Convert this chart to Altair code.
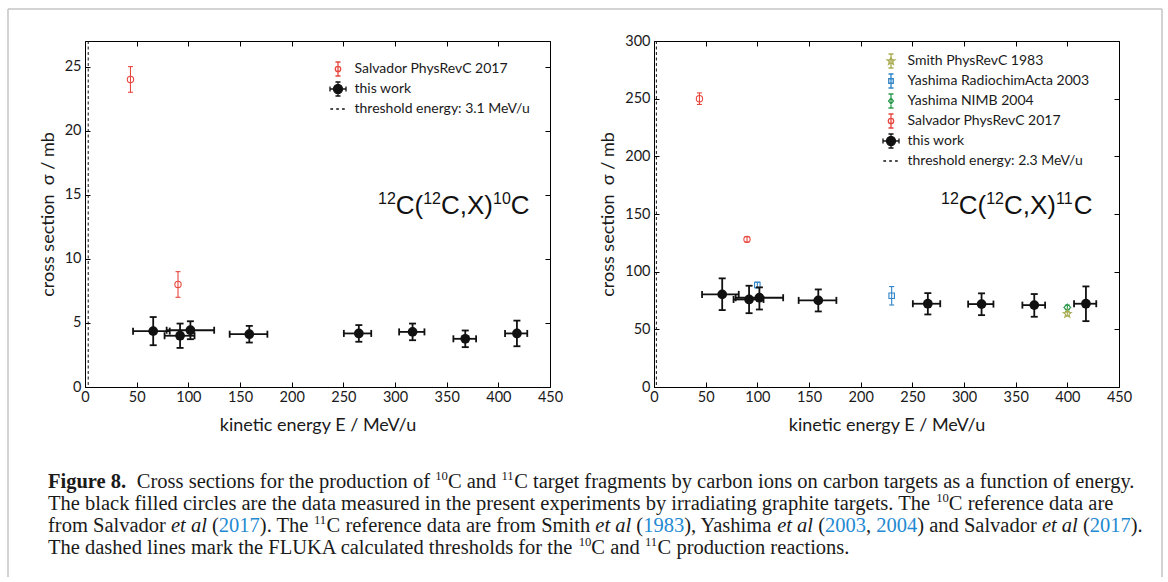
import math
import altair as alt
import pandas as pd

# ---------------- data ----------------
# energies of "this work" (shared by both panels)
tw_E = [66, 92, 102, 159, 265, 317, 368, 418]
tw_Elo = [46.5, 77, 79, 140, 250.5, 304, 356.5, 406.5]
tw_Ehi = [82, 106, 125, 176.5, 277, 328.5, 378.5, 428]

# 10C panel
c10_tw = [4.36, 4.0, 4.43, 4.12, 4.18, 4.3, 3.76, 4.18]
c10_tw_lo = [3.26, 3.05, 3.73, 3.47, 3.53, 3.65, 3.11, 3.18]
c10_tw_hi = [5.46, 4.95, 5.13, 4.77, 4.83, 4.95, 4.41, 5.18]
c10_sal_E = [44, 90]
c10_sal = [24, 8]
c10_sal_lo = [23, 7]
c10_sal_hi = [25, 9]
c10_threshold = 3.1

# 11C panel
c11_tw = [80.3, 75.9, 77.4, 75.1, 72.2, 71.9, 71.0, 72.2]
c11_tw_lo = [66.7, 64.0, 67.2, 65.5, 62.9, 62.3, 60.9, 57.1]
c11_tw_hi = [94.2, 87.8, 86.4, 84.6, 81.4, 81.2, 80.6, 87.2]
c11_sal_E = [44, 90]
c11_sal = [250, 128]
c11_sal_lo = [245, 125.7]
c11_sal_hi = [255, 130.3]
c11_y03_E = [100, 230]
c11_y03 = [88.4, 79.1]
c11_y03_lo = [85.9, 71.1]
c11_y03_hi = [90.9, 87.1]
c11_y04_E = [400]
c11_y04 = [69]
c11_y04_lo = [67]
c11_y04_hi = [71]
c11_smith_E = [400]
c11_smith = [63.5]
c11_smith_lo = [61.5]
c11_smith_hi = [65.5]
c11_threshold = 2.3

x_ticks = [0, 50, 100, 150, 200, 250, 300, 350, 400, 450]
c10_yticks = [0, 5, 10, 15, 20, 25]
c11_yticks = [0, 50, 100, 150, 200, 250, 300]

RED = "#e8473f"
BLUE = "#2f84c8"
GREEN = "#2c9a4e"
OLIVE = "#a9ac52"
BLACK = "#111111"
CAPBLUE = "#1f8ad2"

SANS = "Lato"
TXT = "#1a1a1a"

PW = 465  # plot widths
PH = 346


# ---------------- shapes ----------------
def circ(r):
    return f"M{r},0A{r},{r} 0 1,1 {-r},0A{r},{r} 0 1,1 {r},0Z"


def sq(h):
    return f"M{-h},{-h}L{h},{-h}L{h},{h}L{-h},{h}Z"


def dia(h):
    return f"M0,{-h}L{h * 0.8},0L0,{h}L{-h * 0.8},0Z"


def star(R=1.0, r=0.42):
    pts = []
    for k in range(10):
        ang = -math.pi / 2 + k * math.pi / 5
        rad = R if k % 2 == 0 else r
        pts.append((rad * math.cos(ang), rad * math.sin(ang)))
    return "M" + "L".join(f"{x:.3f},{y:.3f}" for x, y in pts) + "Z"


def ebar(v=0.78, cw=0.28):
    return f"M0,{-v}L0,{v}M{-cw},{-v}L{cw},{-v}M{-cw},{v}L{cw},{v}"


def hbar(h=0.89, ch=0.28):
    return f"M{-h},0L{h},0M{-h},{-ch}L{-h},{ch}M{h},{-ch}L{h},{ch}"


DASHES = "M-0.85,0L-0.55,0M-0.2,0L0.1,0M0.45,0L0.75,0"
LEG_SAL = ebar() + circ(0.3)
LEG_Y03 = ebar() + sq(0.25)
LEG_Y04 = ebar() + dia(0.34)
LEG_SMITH = ebar() + star(0.45, 0.19)
LEG_TW = ebar() + hbar() + circ(0.5)


# ---------------- helpers ----------------
def make_scales(ymax):
    xs = alt.Scale(domain=[0, 450], nice=False, zero=False)
    ys = alt.Scale(domain=[0, ymax], nice=False, zero=False)
    return xs, ys


def layers_for_series(E, y, lo, hi, color, sw, cap, xs, ys, marker):
    d = pd.DataFrame({"E": E, "y": y, "lo": lo, "hi": hi})
    caps = pd.DataFrame({"E": E + E, "v": lo + hi})
    out = [
        alt.Chart(d).mark_rule(color=color, strokeWidth=sw).encode(
            x=alt.X("E:Q", scale=xs, axis=None),
            y=alt.Y("lo:Q", scale=ys, axis=None),
            y2="hi:Q",
        ),
        alt.Chart(caps).mark_tick(orient="horizontal", color=color, size=cap,
                                  thickness=sw, opacity=1).encode(
            x=alt.X("E:Q", scale=xs, axis=None),
            y=alt.Y("v:Q", scale=ys, axis=None),
        ),
    ]
    out.append(alt.Chart(d).mark_point(opacity=1, **marker).encode(
        x=alt.X("E:Q", scale=xs, axis=None),
        y=alt.Y("y:Q", scale=ys, axis=None),
    ))
    return out


def this_work_layers(y, lo, hi, xs, ys, yticks, ytitle, ytitlepad):
    d = pd.DataFrame({"E": tw_E, "Elo": tw_Elo, "Ehi": tw_Ehi,
                      "y": y, "lo": lo, "hi": hi})
    vcaps = pd.DataFrame({"E": tw_E + tw_E, "v": lo + hi})
    hcaps = pd.DataFrame({"E": tw_Elo + tw_Ehi, "v": y + y})
    ax_b = alt.Axis(orient="bottom", values=x_ticks, domain=False, grid=False,
                    tickSize=5, offset=-5, tickColor="black", tickWidth=1,
                    labelFont=SANS, labelFontSize=14.5, labelColor=TXT,
                    labelPadding=3, labelOverlap=False, labelFlush=False,
                    title="kinetic energy E / MeV/u", titleFont=SANS,
                    titleFontSize=18, titleFontWeight="normal",
                    titleColor=TXT, titlePadding=13)
    ax_l = alt.Axis(orient="left", values=yticks, domain=False, grid=False,
                    tickSize=5, offset=-5, tickColor="black", tickWidth=1,
                    labelFont=SANS, labelFontSize=14.5, labelColor=TXT,
                    labelPadding=4, labelOverlap=False, labelFlush=False,
                    title=ytitle, titleFont=SANS, titleFontSize=18,
                    titleFontWeight="normal", titleColor=TXT,
                    titlePadding=ytitlepad)
    ax_t = alt.Axis(orient="top", values=x_ticks, domain=False, grid=False,
                    tickSize=5, offset=-5, tickColor="black", tickWidth=1,
                    labels=False, title="")
    ax_r = alt.Axis(orient="right", values=yticks, domain=False, grid=False,
                    tickSize=5, offset=-5, tickColor="black", tickWidth=1,
                    labels=False, title="")
    return [
        alt.Chart(d).mark_rule(color=BLACK, strokeWidth=1.8).encode(
            x=alt.X("E:Q", scale=xs, axis=ax_t),
            y=alt.Y("lo:Q", scale=ys, axis=ax_r),
            y2="hi:Q",
        ),
        alt.Chart(d).mark_rule(color=BLACK, strokeWidth=1.8).encode(
            x=alt.X("Elo:Q", scale=xs, axis=None),
            x2="Ehi:Q",
            y=alt.Y("y:Q", scale=ys, axis=None),
        ),
        alt.Chart(vcaps).mark_tick(orient="horizontal", color=BLACK, size=7,
                                   thickness=1.8, opacity=1).encode(
            x=alt.X("E:Q", scale=xs, axis=None),
            y=alt.Y("v:Q", scale=ys, axis=None),
        ),
        alt.Chart(hcaps).mark_tick(orient="vertical", color=BLACK, size=7,
                                   thickness=1.8, opacity=1).encode(
            x=alt.X("E:Q", scale=xs, axis=None),
            y=alt.Y("v:Q", scale=ys, axis=None),
        ),
        alt.Chart(d).mark_point(shape="circle", filled=True, color=BLACK,
                                size=95, opacity=1).encode(
            x=alt.X("E:Q", scale=xs, axis=ax_b),
            y=alt.Y("y:Q", scale=ys, axis=ax_l),
        ),
    ]


def legend_layer(cats, paths, strokes, fills, lx, ly, xs, ys):
    n = len(cats)
    d = pd.DataFrame({"series": cats, "E": [None] * n, "v": [None] * n})
    leg = alt.Legend(title=None, orient="none", legendX=lx, legendY=ly,
                     symbolSize=324, symbolStrokeWidth=1.3, labelFont=SANS,
                     labelFontSize=14, labelColor=TXT, labelOffset=6.5,
                     rowPadding=0, padding=0, labelLimit=400)
    return alt.Chart(d).mark_point(opacity=1).encode(
        x=alt.X("E:Q", scale=xs, axis=None),
        y=alt.Y("v:Q", scale=ys, axis=None),
        shape=alt.Shape("series:N", scale=alt.Scale(domain=cats, range=paths),
                        legend=leg),
        stroke=alt.Stroke("series:N", scale=alt.Scale(domain=cats, range=strokes),
                          legend=leg),
        fill=alt.Fill("series:N", scale=alt.Scale(domain=cats, range=fills),
                      legend=leg),
    )


# text layout helpers (Liberation metrics = Times / Arial metrics)
TIMES = {" ": 250, "!": 333, "(": 333, ")": 333, ",": 250, "-": 333, ".": 250,
         "/": 278, ":": 278, ";": 278,
         "A": 722, "B": 667, "C": 667, "D": 722, "E": 611, "F": 556, "G": 722,
         "H": 722, "I": 333, "J": 389, "K": 722, "L": 611, "M": 889, "N": 722,
         "O": 722, "P": 556, "Q": 722, "R": 667, "S": 556, "T": 611, "U": 722,
         "V": 722, "W": 944, "X": 722, "Y": 722, "Z": 611,
         "a": 444, "b": 500, "c": 444, "d": 500, "e": 444, "f": 333, "g": 500,
         "h": 500, "i": 278, "j": 278, "k": 500, "l": 278, "m": 778, "n": 500,
         "o": 500, "p": 500, "q": 500, "r": 333, "s": 389, "t": 278, "u": 500,
         "v": 500, "w": 722, "x": 500, "y": 500, "z": 444}
TIMES_B = dict(TIMES, **{"F": 611, "u": 556, "r": 444, "g": 500})
TIMES_I = dict(TIMES, **{"a": 500})
ARIAL = {"C": 722, "(": 333, ")": 333, ",": 278, "X": 667}
KERN = {"Ya": -100, "Te": -70, "Th": 0}


def width(s, table, fs):
    w = sum(table.get(ch, 500) for ch in s)
    w += sum(KERN.get(s[i:i + 2], 0) for i in range(len(s) - 1))
    return w / 1000.0 * fs


CAPTION = [
    [("Figure 8.", "b"), ("  Cross sections for the production of ", "r"), ("10", "s"),
     ("C and ", "r"), ("11", "s"),
     ("C target fragments by carbon ions on carbon targets as a function of energy.", "r")],
    [("The black filled circles are the data measured in the present experiments by "
      "irradiating graphite targets. The ", "r"), ("10", "s"), ("C reference data are", "r")],
    [("from Salvador ", "r"), ("et al", "i"), (" (", "r"), ("2017", "c"), ("). The ", "r"),
     ("11", "s"), ("C reference data are from Smith ", "r"), ("et al", "i"), (" (", "r"),
     ("1983", "c"), ("), Yashima ", "r"), ("et al", "i"), (" (", "r"), ("2003", "c"),
     (", ", "r"), ("2004", "c"), (") and Salvador ", "r"), ("et al", "i"), (" (", "r"),
     ("2017", "c"), (").", "r")],
    [("The dashed lines mark the FLUKA calculated thresholds for the ", "r"), ("10", "s"),
     ("C and ", "r"), ("11", "s"), ("C production reactions.", "r")],
]


def seg_width(text, style, fs):
    if style == "b":
        return width(text, TIMES_B, fs)
    if style == "i":
        return width(text, TIMES_I, fs)
    if style == "s":
        return width(text, TIMES, fs * 0.62)
    return width(text, TIMES, fs)


line1_em = sum(seg_width(t, s, 1.0) for t, s in CAPTION[0])
CAP_FS = 1089.0 / line1_em


def caption_layers(x0, y0, dy):
    out = []
    for li, line in enumerate(CAPTION):
        x = x0
        base = y0 + li * dy
        for text, style in line:
            w = seg_width(text, style, CAP_FS)
            lead = len(text) - len(text.lstrip(" "))
            draw_x = x + width(" " * lead, TIMES, CAP_FS if style != "s" else CAP_FS * 0.62)
            props = dict(font="Liberation Serif", align="left", baseline="alphabetic",
                         fontSize=CAP_FS, color=TXT, text=text.strip(" "))
            yy = base
            if style == "b":
                props["fontWeight"] = "bold"
            elif style == "i":
                props["fontStyle"] = "italic"
            elif style == "s":
                props["fontSize"] = CAP_FS * 0.62
                yy = base - CAP_FS * 0.4
            elif style == "c":
                props["color"] = CAPBLUE
            out.append(alt.Chart(alt.Data(values=[{}])).mark_text(**props).encode(
                x=alt.value(draw_x), y=alt.value(yy)))
            x += w
    return out


def reaction_layers(x0, ybase, product):
    segs = [("12", "s"), ("C(", "m"), ("12", "s"), ("C,X)", "m"), (product, "s"), ("C", "m")]
    fs, sfs = 26, 16
    out = []
    x = x0
    for text, st in segs:
        f = sfs if st == "s" else fs
        yy = ybase - 10 if st == "s" else ybase
        out.append(alt.Chart(alt.Data(values=[{}])).mark_text(
            text=text, font="Liberation Sans", fontSize=f, align="left",
            baseline="alphabetic", color=BLACK).encode(
            x=alt.value(x), y=alt.value(yy)))
        x += sum(ARIAL.get(ch, 556) for ch in text) / 1000.0 * f
    return out


YTITLE = "cross section\u00a0\u00a0σ / mb"

# ---------------- left panel: 10C ----------------
xs, ys = make_scales(27)
thr10 = alt.Chart(pd.DataFrame({"t": [c10_threshold]})).mark_rule(
    color=BLACK, strokeWidth=1, strokeDash=[3, 2.5]).encode(
    x=alt.X("t:Q", scale=xs, axis=None))

left_layers = [thr10]
left_layers += layers_for_series(c10_sal_E, c10_sal, c10_sal_lo, c10_sal_hi, RED, 1.1, 5,
                                 xs, ys, dict(shape="circle", filled=False, stroke=RED,
                                              fill="transparent", size=40, strokeWidth=1.1))
left_layers += this_work_layers(c10_tw, c10_tw_lo, c10_tw_hi, xs, ys, c10_yticks, YTITLE, 7)
left_layers.append(legend_layer(
    ["Salvador PhysRevC 2017", "this work", "threshold energy: 3.1 MeV/u"],
    [LEG_SAL, LEG_TW, DASHES], [RED, BLACK, BLACK], ["transparent", BLACK, "transparent"],
    243, 18, xs, ys))
left_layers += reaction_layers(293, 173, "10")

# frame around the whole figure (decoration)
FR = "#c4c4c4"
frame_rules = [
    alt.Chart(alt.Data(values=[{}])).mark_rule(color=FR, strokeWidth=1.5).encode(
        x=alt.value(-77), x2=alt.value(1077), y=alt.value(-32)),
    alt.Chart(alt.Data(values=[{}])).mark_rule(color=FR, strokeWidth=1.5).encode(
        x=alt.value(-77), y=alt.value(-32), y2=alt.value(536)),
    alt.Chart(alt.Data(values=[{}])).mark_rule(color=FR, strokeWidth=1.5).encode(
        x=alt.value(1077), y=alt.value(-32), y2=alt.value(536)),
]
left_layers = frame_rules + left_layers + caption_layers(-37, 447, 22)

left = alt.layer(*left_layers).properties(width=PW, height=PH)

# ---------------- right panel: 11C ----------------
xs2, ys2 = make_scales(300)
thr11 = alt.Chart(pd.DataFrame({"t": [c11_threshold]})).mark_rule(
    color=BLACK, strokeWidth=1, strokeDash=[3, 2.5]).encode(
    x=alt.X("t:Q", scale=xs2, axis=None))

right_layers = [thr11]
right_layers += layers_for_series(c11_sal_E, c11_sal, c11_sal_lo, c11_sal_hi, RED, 1.1, 5,
                                  xs2, ys2, dict(shape="circle", filled=False, stroke=RED,
                                                 fill="transparent", size=40, strokeWidth=1.1))
right_layers += layers_for_series(c11_y03_E, c11_y03, c11_y03_lo, c11_y03_hi, BLUE, 1.1, 5,
                                  xs2, ys2, dict(shape="square", filled=False, stroke=BLUE,
                                                 fill="transparent", size=30, strokeWidth=1.1))
right_layers += this_work_layers(c11_tw, c11_tw_lo, c11_tw_hi, xs2, ys2, c11_yticks, YTITLE, 7)
right_layers += layers_for_series(c11_y04_E, c11_y04, c11_y04_lo, c11_y04_hi, GREEN, 1.1, 5,
                                  xs2, ys2, dict(shape="diamond", filled=False, stroke=GREEN,
                                                 fill="transparent", size=45, strokeWidth=1.2))
right_layers += layers_for_series(c11_smith_E, c11_smith, c11_smith_lo, c11_smith_hi, OLIVE,
                                  1.1, 5, xs2, ys2,
                                  dict(shape=star(), filled=False, stroke=OLIVE,
                                       fill="transparent", size=70, strokeWidth=1.1))
right_layers.append(legend_layer(
    ["Smith PhysRevC 1983", "Yashima RadiochimActa 2003", "Yashima NIMB 2004",
     "Salvador PhysRevC 2017", "this work", "threshold energy: 2.3 MeV/u"],
    [LEG_SMITH, LEG_Y03, LEG_Y04, LEG_SAL, LEG_TW, DASHES],
    [OLIVE, BLUE, GREEN, RED, BLACK, BLACK],
    ["transparent", "transparent", "transparent", "transparent", BLACK, "transparent"],
    227, 10, xs2, ys2))
right_layers += reaction_layers(287, 173, "11")

right = alt.layer(*right_layers).properties(width=PW, height=PH)

chart = alt.hconcat(left, right, spacing=104, bounds="flush").resolve_scale(
    x="independent", y="independent", shape="independent", stroke="independent",
    fill="independent").resolve_legend(
    shape="independent", stroke="independent", fill="independent").properties(
    padding={"left": 6, "top": 7, "right": 0, "bottom": 0}, background="white"
).configure_view(stroke="black", strokeWidth=1)

chart.save("out.html", embed_options={"renderer": "svg", "actions": False})
